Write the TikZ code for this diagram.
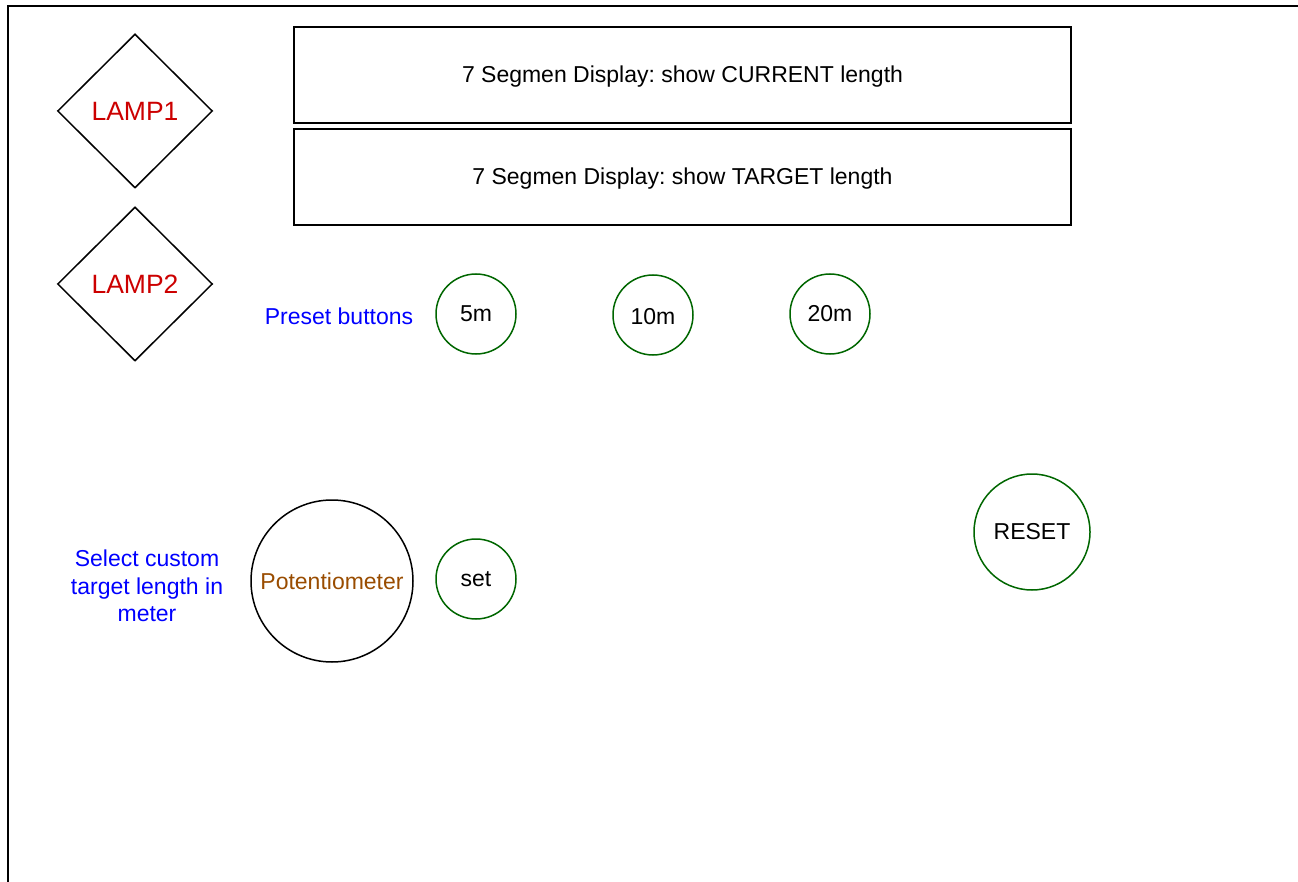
\documentclass[tikz,border=0pt]{standalone}
\usepackage{fontspec}
\setmainfont{Liberation Sans}
\usetikzlibrary{shapes.geometric}
\definecolor{lampred}{HTML}{CC0000}
\definecolor{labelblue}{HTML}{0000FF}
\definecolor{btngreen}{HTML}{006600}
\definecolor{potbrown}{HTML}{994C00}
\tikzset{
  base/.style={font=\fontsize{23}{27.6}\selectfont\frenchspacing, inner sep=0pt},
  lamp/.style={base, draw=black, line width=1.5pt, diamond, aspect=1, minimum width=155pt, minimum height=154pt, text=lampred, font=\fontsize{26.5}{31}\selectfont},
  display/.style={base, draw=black, line width=1.5pt, rectangle, minimum width=777pt, minimum height=96pt, text height=17pt, text depth=1pt},
  btn/.style={base, draw=btngreen, line width=1.5pt, circle, minimum size=80pt},
  bigbtn/.style={btn, minimum size=116pt},
  pot/.style={base, draw=black, line width=1.5pt, circle, minimum size=162pt, text=potbrown},
  note/.style={base, text=labelblue, align=center},
  frame/.style={draw=black, line width=2pt}
}
\begin{document}
\begin{tikzpicture}[x=1pt,y=-1pt]
\useasboundingbox (0,0) rectangle (1298,882);
\coordinate (fbl) at (8,883);
\coordinate (ftl) at (8,6);
\coordinate (ftr) at (1299,6);
\draw[frame] (fbl) -- (ftl) -- (ftr);

\node[lamp] (lamp1) at (135,111) {LAMP1};
\node[lamp] (lamp2) at (135,284) {LAMP2};

\node[display] (cur) at (682.5,75) {7 Segmen Display: show CURRENT length};
\node[display] (tgt) at (682.5,177) {7 Segmen Display: show TARGET length};

\node[note] (preset) at (339,316) {Preset buttons};
\node[btn] (b5) at (476,314) {5m};
\node[btn, text height=19.5pt, text depth=0pt] (b10) at (653,315) {10m};
\node[btn] (b20) at (830,314) {20m};

\node[bigbtn] (reset) at (1032,532) {RESET};

\node[note] (custom) at (147,586) {Select custom\\target length in\\meter};
\node[pot] (pot) at (332,581) {Potentiometer};
\node[btn] (set) at (476,579) {set};
\end{tikzpicture}
\end{document}
